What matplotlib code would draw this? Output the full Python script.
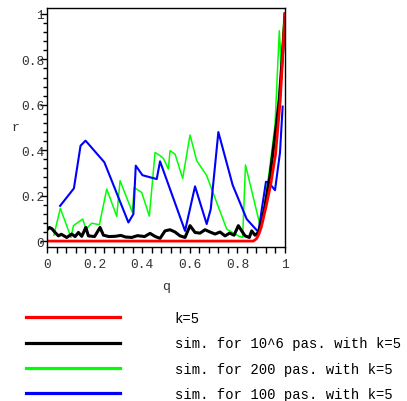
import numpy as np
import matplotlib.pyplot as plt
from matplotlib.lines import Line2D
from matplotlib.ticker import MultipleLocator

# values
q_theory = [0.0, 0.5, 0.867, 0.88, 0.89, 0.90, 0.92, 0.94, 0.96, 0.98, 1.0]
r_theory = [0.0, 0.0, 0.0, 0.01, 0.03, 0.06, 0.15, 0.25, 0.38, 0.62, 1.0]

q_sim6 = [0.0, 0.01, 0.02, 0.034, 0.048, 0.06, 0.083, 0.104, 0.118, 0.132, 0.146, 0.163,
          0.174, 0.2, 0.223, 0.237, 0.26, 0.286, 0.31, 0.33, 0.356, 0.38, 0.41, 0.433,
          0.455, 0.475, 0.496, 0.517, 0.538, 0.559, 0.58, 0.601, 0.622, 0.643, 0.664,
          0.685, 0.706, 0.727, 0.748, 0.767, 0.786, 0.804, 0.818, 0.832, 0.85, 0.86,
          0.874, 0.888, 0.902, 0.916, 0.937, 0.951, 0.965, 0.976, 0.986, 0.997, 1.0]
r_sim6 = [0.05, 0.06, 0.055, 0.038, 0.023, 0.03, 0.016, 0.031, 0.02, 0.038, 0.021, 0.06,
          0.023, 0.02, 0.06, 0.026, 0.02, 0.021, 0.025, 0.018, 0.016, 0.024, 0.02, 0.034,
          0.02, 0.012, 0.045, 0.05, 0.04, 0.023, 0.016, 0.068, 0.038, 0.035, 0.05,
          0.04, 0.031, 0.04, 0.023, 0.035, 0.026, 0.068, 0.045, 0.023, 0.016, 0.045,
          0.026, 0.038, 0.082, 0.155, 0.288, 0.405, 0.523, 0.626, 0.772, 0.934, 1.0]

q_sim200 = [0.029, 0.056, 0.101, 0.111, 0.15, 0.164, 0.188, 0.22, 0.251, 0.293, 0.307,
            0.359, 0.366, 0.398, 0.43, 0.454, 0.475, 0.489, 0.51, 0.517, 0.538, 0.57,
            0.601, 0.629, 0.671, 0.692, 0.755, 0.804, 0.822, 0.834, 0.895, 0.905, 0.933,
            0.958, 0.976, 0.984, 0.995, 1.0]
r_sim200 = [0.026, 0.144, 0.016, 0.068, 0.097, 0.053, 0.079, 0.072, 0.229, 0.109, 0.266,
            0.126, 0.236, 0.214, 0.11, 0.39, 0.376, 0.364, 0.317, 0.398, 0.383, 0.276,
            0.467, 0.354, 0.288, 0.229, 0.053, 0.023, 0.016, 0.335, 0.07, 0.08, 0.30,
            0.51, 0.926, 0.78, 0.98, 1.0]

q_sim100 = [0.055, 0.113, 0.141, 0.162, 0.241, 0.342, 0.363, 0.373, 0.401, 0.461, 0.475,
            0.58, 0.622, 0.671, 0.688, 0.72, 0.78, 0.839, 0.888, 0.92, 0.93, 0.958,
            0.979, 0.99]
r_sim100 = [0.155, 0.232, 0.42, 0.442, 0.347, 0.082, 0.119, 0.332, 0.29, 0.273, 0.351,
            0.045, 0.241, 0.075, 0.141, 0.48, 0.247, 0.097, 0.04, 0.261, 0.26, 0.224,
            0.39, 0.592]

ticks = [0, 0.2, 0.4, 0.6, 0.8, 1]
tick_labels = ["0", "0.2", "0.4", "0.6", "0.8", "1"]
labels = ["k=5", "sim. for 10^6 pas. with k=5", "sim. for 200 pas. with k=5",
          "sim. for 100 pas. with k=5"]
colors = ["#ff0000", "#000000", "#00ff00", "#0000ff"]

mono = "Liberation Mono"
W, H = 407, 402
fig = plt.figure(figsize=(W / 100, H / 100), dpi=100)
ax = fig.add_axes([47 / W, 1 - 248 / H, 238 / W, 239 / H])

ax.plot(q_sim200, r_sim200, color=colors[2], lw=1.1)
ax.plot(q_sim100, r_sim100, color=colors[3], lw=1.5)
ax.plot(q_sim6, r_sim6, color=colors[1], lw=2.2)
ax.plot(q_theory, r_theory, color=colors[0], lw=2.0)

ax.set_xlim(0, 1)
ax.set_ylim(-0.026, 1.026)
ax.set_xticks(ticks, tick_labels)
ax.set_yticks(ticks, tick_labels)
ax.xaxis.set_minor_locator(MultipleLocator(0.04))
ax.yaxis.set_minor_locator(MultipleLocator(0.04))
ax.tick_params(axis="x", which="major", length=4, width=1, pad=4, labelsize=9.3)
ax.tick_params(axis="x", which="minor", length=4, width=1)
ax.tick_params(axis="y", which="major", length=5, width=1, pad=-3, labelsize=9.3)
ax.tick_params(axis="y", which="minor", length=3, width=1)
for lab in ax.get_xticklabels() + ax.get_yticklabels():
    lab.set_fontfamily(mono)
    lab.set_color("#333333")
for sp in ax.spines.values():
    sp.set_linewidth(1)

fig.text(166 / W, 1 - 287 / H, "q", family=mono, fontsize=9.5, ha="center", va="center",
         color="#333333")
fig.text(15 / W, 1 - 128 / H, "r", family=mono, fontsize=9.5, ha="center", va="center",
         color="#333333")

handles = [Line2D([], [], color=c, lw=2.3) for c in colors]
fig.legend(handles, labels, loc="upper left", bbox_to_anchor=(26 / W, 1 - 312 / H),
           frameon=False, prop={"family": mono, "size": 10}, handlelength=6.8,
           handletextpad=3.9, labelspacing=0.82, borderpad=0, borderaxespad=0)

fig.savefig("out.png", dpi=100)
